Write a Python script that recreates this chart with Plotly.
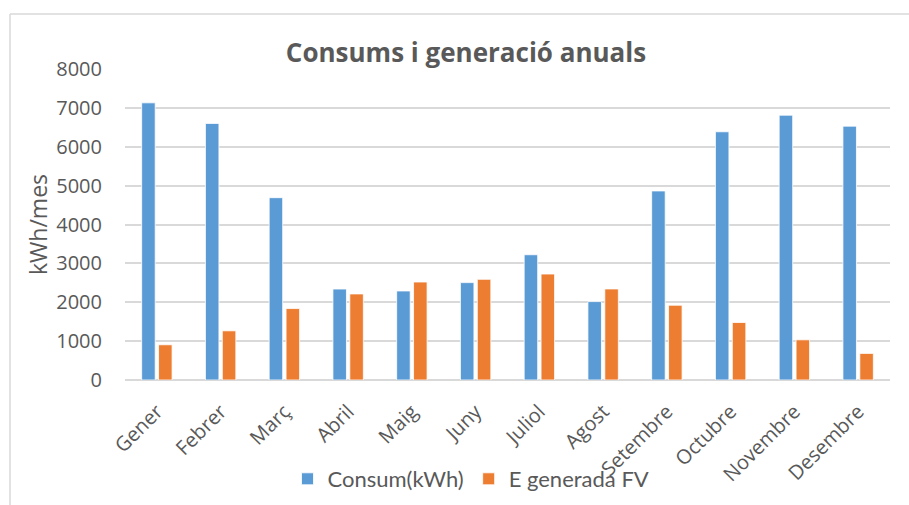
import plotly.graph_objects as go

months = ["Gener", "Febrer", "Març", "Abril", "Maig", "Juny", "Juliol",
          "Agost", "Setembre", "Octubre", "Novembre", "Desembre"]
consum = [7130, 6600, 4690, 2340, 2290, 2505, 3222, 2017, 4863, 6385, 6812, 6530]
generada = [906, 1265, 1838, 2214, 2521, 2590, 2726, 2342, 1923, 1479, 1034, 684]
y_ticks = [0, 1000, 2000, 3000, 4000, 5000, 6000, 7000, 8000]

GRAY = "#595959"

fig = go.Figure()
fig.add_trace(go.Bar(x=months, y=consum, name="Consum(kWh)",
                     marker=dict(color="#5B9BD5", line=dict(color="white", width=0.8))))
fig.add_trace(go.Bar(x=months, y=generada, name="E generada FV",
                     marker=dict(color="#ED7D31", line=dict(color="white", width=0.8))))

W, H = 909, 505
L, R, T, B = 125, 19, 69, 125
pw = W - L - R
ph = H - T - B

def px(x):
    return (x - L) / pw

def py(y):
    return (H - B - y) / ph

fig.update_layout(
    width=W, height=H,
    margin=dict(l=L, r=R, t=T, b=B, autoexpand=False),
    paper_bgcolor="white", plot_bgcolor="white",
    barmode="group", bargap=0.47, bargroupgap=0.2,
    font=dict(family="Open Sans", color=GRAY),
    title=dict(text="<b>Consums i generació anuals</b>", x=466 / W, xanchor="center",
               y=1 - 53 / H, yanchor="middle",
               font=dict(size=26, color=GRAY, family="Open Sans")),
    showlegend=True,
    legend=dict(orientation="h", x=471 / W, xref="container", xanchor="center",
                y=1 - 479 / H, yref="container", yanchor="middle",
                bgcolor="rgba(0,0,0,0)",
                font=dict(size=22, color=GRAY, family="Lato"),
                traceorder="normal", itemwidth=30),
    xaxis=dict(tickangle=-45, tickfont=dict(size=20, color=GRAY, family="Open Sans"),
               showline=False, showgrid=False, ticks="", automargin=False,
               ticklabelstandoff=15),
    yaxis=dict(range=[0, 8000], tickvals=y_ticks, ticktext=[str(v) for v in y_ticks],
               tickfont=dict(size=20, color=GRAY, family="Open Sans"),
               showgrid=True, gridcolor="#d9d9d9", gridwidth=1.5,
               zeroline=True, zerolinecolor="#d9d9d9", zerolinewidth=1.5,
               showline=False, ticks="", ticklabelstandoff=22, automargin=False,
               title=dict(text="kWh/mes", font=dict(size=23, color=GRAY, family="Open Sans"),
                          standoff=2)),
)

# outer chart border (left and top edges visible)
fig.add_shape(type="line", xref="paper", yref="paper",
              x0=px(10), x1=px(W + 5), y0=py(14), y1=py(14),
              line=dict(color="#d9d9d9", width=1.5))
fig.add_shape(type="line", xref="paper", yref="paper",
              x0=px(10), x1=px(10), y0=py(14), y1=py(H + 5),
              line=dict(color="#d9d9d9", width=1.5))

fig.write_html("out.html", config={"displayModeBar": False},
               post_script="document.body.style.margin='0px';")
